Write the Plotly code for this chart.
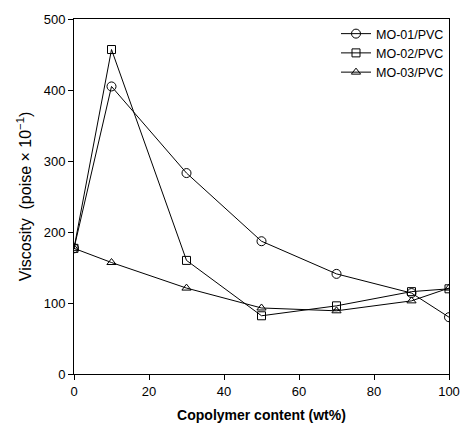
import plotly.graph_objects as go

x = [0, 10, 30, 50, 70, 90, 100]
mo01 = [177, 405, 283, 187, 141, 114, 80]
mo02 = [177, 457, 160, 82, 96, 116, 120]
mo03 = [177, 157, 121, 93, 89, 103, 121]
names = ["MO-01/PVC", "MO-02/PVC", "MO-03/PVC"]
symbols = ["circle-open", "square-open", "triangle-up-open"]
sizes = [9, 8, 8]

fig = go.Figure()
for ys, nm, sym, sz in zip([mo01, mo02, mo03], names, symbols, sizes):
    fig.add_trace(go.Scatter(
        x=x, y=ys, name=nm, mode="lines+markers",
        line=dict(color="black", width=1),
        marker=dict(symbol=sym, size=sz, color="black", line=dict(width=1, color="black")),
    ))

fig.update_layout(
    width=472, height=432,
    margin=dict(l=74, r=12, t=15, b=56),
    plot_bgcolor="white", paper_bgcolor="white",
    font=dict(family="Liberation Sans, Arial, sans-serif", size=13, color="black"),
    showlegend=True,
    legend=dict(x=1.0, y=1.0, xanchor="right", yanchor="top",
                bgcolor="rgba(0,0,0,0)", font=dict(size=12.5), tracegroupgap=0,
                itemwidth=30),
    xaxis=dict(range=[0, 100], tickvals=[0, 20, 40, 60, 80, 100],
               showline=True, linecolor="black", linewidth=1, mirror=True,
               ticks="outside", ticklen=5, tickcolor="black", showgrid=False,
               zeroline=False, tickfont=dict(size=13),
               title=dict(text="<b>Copolymer content (wt%)</b>", font=dict(size=14), standoff=12)),
    yaxis=dict(range=[0, 500], tickvals=[0, 100, 200, 300, 400, 500],
               showline=True, linecolor="black", linewidth=1, mirror=True,
               ticks="outside", ticklen=5, tickcolor="black", showgrid=False,
               zeroline=False, tickfont=dict(size=13),
               title=dict(text="Viscosity  (poise \u00d7 10<sup>\u22121</sup>)", font=dict(size=16), standoff=8)),
)

fig.write_html("out.html")
